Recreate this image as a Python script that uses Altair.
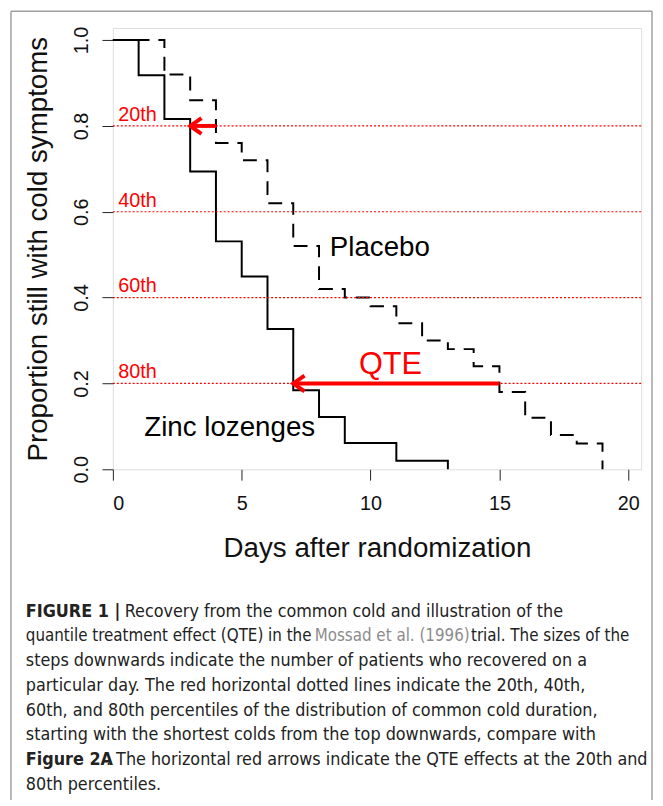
import altair as alt
import pandas as pd

# ---- data ----
zinc_days = [0, 1, 2, 3, 4, 5, 6, 7, 8, 9, 11, 13]
zinc_prop = [1.0, 0.918, 0.816, 0.694, 0.531, 0.449, 0.327, 0.184, 0.122, 0.061, 0.020, 0.0]

placebo_days = [0, 2, 3, 4, 5, 6, 7, 8, 9, 10, 11, 12, 13, 14, 15, 16, 17, 18, 19]
placebo_prop = [1.0, 0.92, 0.86, 0.76, 0.72, 0.62, 0.52, 0.42, 0.40, 0.38, 0.34, 0.30,
                0.28, 0.24, 0.18, 0.12, 0.08, 0.06, 0.0]

pct_levels = [0.8, 0.6, 0.4, 0.2]
pct_labels = ["20th", "40th", "60th", "80th"]

arrow_levels = [0.8, 0.2]
arrow_from = [4, 15]
arrow_to = [3, 7]

x_ticks = [0, 5, 10, 15, 20]
y_ticks = [0.0, 0.2, 0.4, 0.6, 0.8, 1.0]

# (text, weight, colour, x offset, font size)
caption_lines = [
    [("FIGURE 1 |", "bold", "#222222", 0, 18), ("Recovery from the common cold and illustration of the", "normal", "#222222", 100, 18)],
    [("quantile treatment effect (QTE) in the", "normal", "#222222", 0, 17), ("Mossad et al. (1996)", "normal", "#8c8c8c", 292, 17), ("trial. The sizes of the", "normal", "#222222", 450, 17)],
    [("steps downwards indicate the number of patients who recovered on a", "normal", "#222222", 0, 18)],
    [("particular day. The red horizontal dotted lines indicate the 20th, 40th,", "normal", "#222222", 0, 18)],
    [("60th, and 80th percentiles of the distribution of common cold duration,", "normal", "#222222", 0, 18)],
    [("starting with the shortest colds from the top downwards, compare with", "normal", "#222222", 0, 18)],
    [("Figure 2A", "bold", "#222222", 0, 18), (". The horizontal red arrows indicate the QTE effects at the 20th and", "normal", "#222222", 81, 18)],
    [("80th percentiles.", "normal", "#222222", 0, 18)],
]

FONT = "Liberation Sans"
CAP_FONT = "Liberation Sans Narrow, DejaVu Sans Condensed, Liberation Sans"

W, H = 534, 446
XDOM = [0, 20.5]
YDOM = [0, 1.028]

xenc = lambda f: alt.X(f, type="quantitative", scale=alt.Scale(domain=XDOM, nice=False, zero=False),
                       axis=alt.Axis(values=x_ticks, title="Days after randomization", grid=False, domain=False,
                                     tickSize=11, tickColor="#222", labelPadding=30, labelBaseline="alphabetic",
                                     labelFontSize=20, labelFont=FONT, labelColor="#111",
                                     titleFontSize=28, titleFont=FONT, titleFontWeight="normal", titleColor="#111",
                                     titleBaseline="alphabetic", titleY=88, titleX=W / 2, titleAlign="center"))
yenc = lambda f: alt.Y(f, type="quantitative", scale=alt.Scale(domain=YDOM, nice=False, zero=False),
                       axis=alt.Axis(values=y_ticks, format=".1f", title="Proportion still with cold symptoms",
                                     grid=False, domain=False, tickSize=11, tickColor="#222",
                                     labelAngle=270, labelAlign="center", labelBaseline="alphabetic", labelPadding=15,
                                     labelFontSize=20, labelFont=FONT, labelColor="#111",
                                     titleFontSize=28, titleFont=FONT, titleFontWeight="normal", titleColor="#111",
                                     titleAngle=270, titleBaseline="alphabetic", titleAlign="center",
                                     titleX=-67, titleY=H / 2))

zinc_df = pd.DataFrame({"day": zinc_days, "prop": zinc_prop})
plac_df = pd.DataFrame({"day": placebo_days, "prop": placebo_prop})
pct_df = pd.DataFrame({"prop": pct_levels, "label": pct_labels, "day": [0.21] * 4})
pct_df["ly"] = pct_df["prop"] + 0.012
arr_df = pd.DataFrame({"prop": arrow_levels, "day": arrow_from, "day2": arrow_to})
tip_df = pd.DataFrame({"prop": arrow_levels, "day": arrow_to})
ann_df = pd.DataFrame({"day": [8.42, 1.22], "prop": [0.497, 0.078], "label": ["Placebo", "Zinc lozenges"]})
qte_df = pd.DataFrame({"day": [9.55], "prop": [0.223], "label": ["QTE"]})

placebo = alt.Chart(plac_df).mark_line(interpolate="step-after", color="black", strokeWidth=2,
                                       strokeDash=[14, 9]).encode(x=xenc("day"), y=yenc("prop"))
zinc = alt.Chart(zinc_df).mark_line(interpolate="step-after", color="black", strokeWidth=2).encode(
    x=xenc("day"), y=yenc("prop"))
pct_rules = alt.Chart(pct_df).mark_rule(color="red", strokeDash=[2, 2], strokeWidth=1.2).encode(y=yenc("prop"))
pct_text = alt.Chart(pct_df).mark_text(color="red", font=FONT, fontSize=20, align="left",
                                       baseline="alphabetic").encode(x=xenc("day"), y=yenc("ly"), text="label:N")
shafts = alt.Chart(arr_df).mark_rule(color="red", strokeWidth=4).encode(x=xenc("day"), x2="day2", y=yenc("prop"))
heads = alt.Chart(tip_df).mark_point(shape="M1,-0.7L0,0L1,0.7", filled=False, size=520, strokeWidth=4,
                                     color="red", opacity=1).encode(x=xenc("day"), y=yenc("prop"))
ann = alt.Chart(ann_df).mark_text(color="black", font=FONT, fontSize=28, align="left",
                                  baseline="alphabetic").encode(x=xenc("day"), y=yenc("prop"), text="label:N")
qte = alt.Chart(qte_df).mark_text(color="red", font=FONT, fontSize=31, align="left",
                                  baseline="alphabetic").encode(x=xenc("day"), y=yenc("prop"), text="label:N")

one = pd.DataFrame({"t": [""]})
frame_col = "#a0a0a0"
frame = [
    alt.Chart(one).mark_rule(color=frame_col, strokeWidth=1.5).encode(x=alt.value(-103), x2=alt.value(545), y=alt.value(-17)),
    alt.Chart(one).mark_rule(color=frame_col, strokeWidth=1.5).encode(x=alt.value(-103), y=alt.value(-17), y2=alt.value(800)),
    alt.Chart(one).mark_rule(color=frame_col, strokeWidth=1.5).encode(x=alt.value(545), y=alt.value(-17), y2=alt.value(800)),
]

cap_layers = []
base_x = -88
base_y = 595
step = 25
for i, line in enumerate(caption_lines):
    for (txt, wt, col, dx, fs) in line:
        cap_layers.append(
            alt.Chart(pd.DataFrame({"t": [txt]})).mark_text(
                font=CAP_FONT, fontSize=fs, fontWeight=wt, color=col, align="left", baseline="alphabetic"
            ).encode(x=alt.value(base_x + dx), y=alt.value(base_y + i * step), text="t:N")
        )

chart = alt.layer(placebo, zinc, pct_rules, pct_text, shafts, heads, ann, qte, *frame, *cap_layers).properties(
    width=W, height=H,
    padding={"left": 106, "top": 16, "right": 14, "bottom": 330},
    autosize=alt.AutoSizeParams(type="none"),
).configure_view(stroke="#222", strokeWidth=1.2).configure(background="white")

chart.save("out.html", embed_options={"renderer": "svg", "actions": False})
